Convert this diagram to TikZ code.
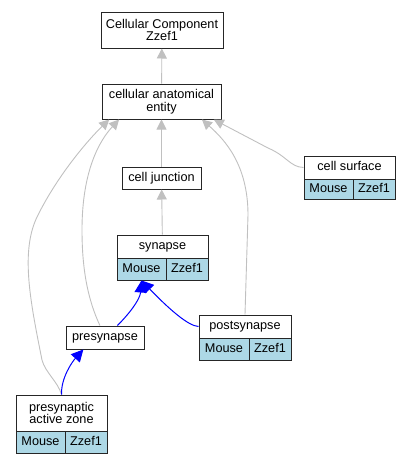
\documentclass[tikz,border=0pt]{standalone}
\usepackage{fontspec}
\setmainfont{Liberation Sans}
\usepackage{xcolor}
\usetikzlibrary{arrows.meta,positioning}
\definecolor{cellblue}{HTML}{ADD8E6}
\definecolor{edgegray}{HTML}{C0C0C0}
\tikzset{
  box/.style={draw=black!85, line width=1pt, fill=white, inner sep=0pt, align=center,
    font=\fontsize{12.7}{12.5}\selectfont},
  one/.style={box, text height=9.2pt, text depth=2.7pt},
  cell/.style={one, fill=cellblue},
  isa/.style={draw=edgegray, line width=0.9pt, -{Triangle[length=10pt,width=10pt]}},
  part/.style={draw=blue, line width=1pt, -{Triangle[length=12pt,width=12pt]}}
}
\begin{document}
\begin{tikzpicture}[x=1pt,y=-1pt]
\useasboundingbox (0,0) rectangle (411,464);
% terms
\node[box, minimum width=122, minimum height=36] (cc) at (162,30) {Cellular Component\\Zzef1};
\node[box, minimum width=119, minimum height=35] (cae) at (161.5,101.5) {cellular anatomical\\entity};
\node[one, minimum width=79, minimum height=22] (junc) at (161.5,178) {cell junction};
\node[one, minimum width=91, minimum height=23] (surf) at (349.5,167.5) {cell surface};
\node[cell, minimum width=49, minimum height=20] (surfM) at (328.5,189) {Mouse};
\node[cell, minimum width=42, minimum height=20] (surfZ) at (374,189) {Zzef1};
\node[one, minimum width=91, minimum height=23] (syn) at (162.5,246.5) {synapse};
\node[cell, minimum width=49, minimum height=22] (synM) at (141.5,269) {Mouse};
\node[cell, minimum width=42, minimum height=22] (synZ) at (187,269) {Zzef1};
\node[one, minimum width=78, minimum height=23] (pre) at (105,337.5) {presynapse};
\node[one, minimum width=92, minimum height=23] (post) at (245,326.5) {postsynapse};
\node[cell, minimum width=50, minimum height=22] (postM) at (224,349) {Mouse};
\node[cell, minimum width=42, minimum height=22] (postZ) at (270,349) {Zzef1};
\node[box, minimum width=91, minimum height=36] (paz) at (61.5,413) {presynaptic\\active zone};
\node[cell, minimum width=49, minimum height=22] (pazM) at (40.5,442) {Mouse};
\node[cell, minimum width=42, minimum height=22] (pazZ) at (86,442) {Zzef1};
% is_a
\draw[isa] (cae) -- (cc);
\draw[isa] (junc) -- (cae);
\draw[isa] (syn) -- (junc);
\draw[isa] (surf.west) .. controls (290,167) and (287,156) .. (268,148) -- (cae.-19);
\draw[isa] (post.north) -- (248,215) .. controls (248,165) and (225,140) .. (cae.-24);
\draw[isa] (pre.113) .. controls (88,300) and (82,270) .. (82,230)
  .. controls (82,170) and (100,140) .. (cae.-157);
\draw[isa] (paz.north) .. controls (58,382) and (45,372) .. (42,360)
  .. controls (30,300) and (20,250) .. (38,215) .. controls (58,175) and (88,140) .. (cae.-161);
% part_of
\draw[part] (pre.44) .. controls (128,315) and (140,300) .. (synM.south);
\draw[part] (post.west) .. controls (188,326) and (168,308) .. (synM.south);
\draw[part] (paz.north) .. controls (61,378) and (72,362) .. (pre.-151);
\end{tikzpicture}
\end{document}
